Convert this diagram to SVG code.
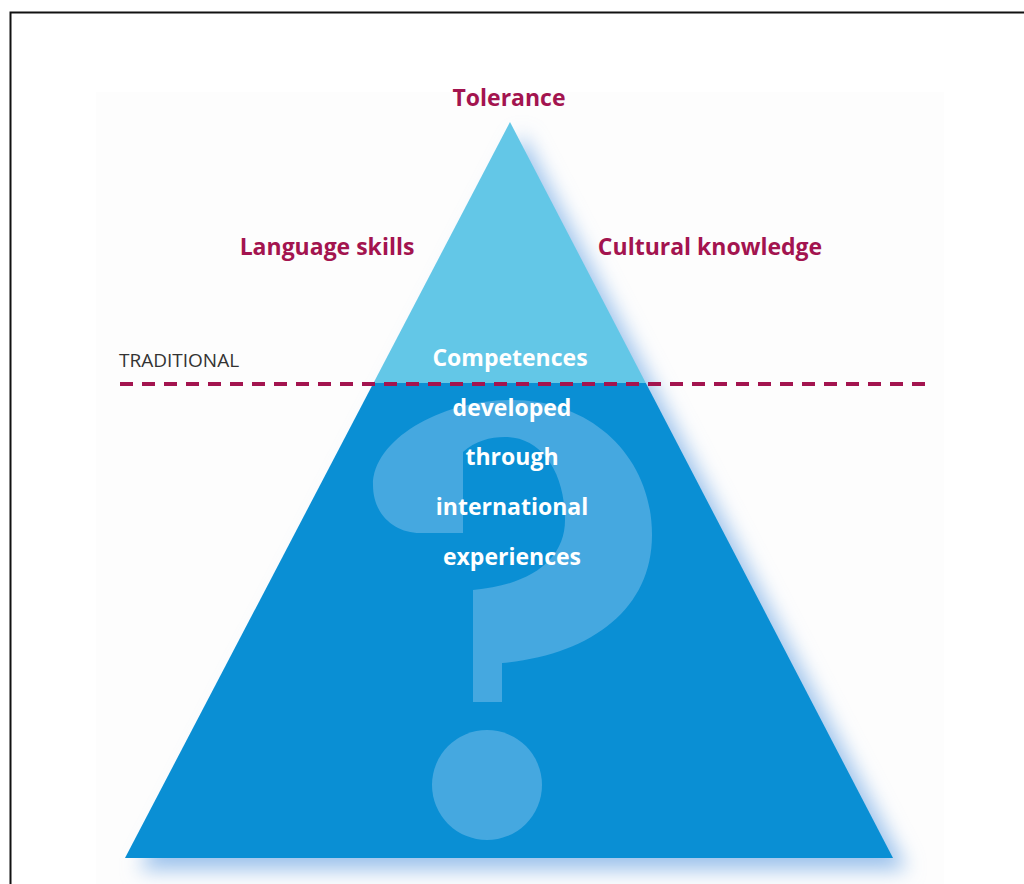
<svg xmlns="http://www.w3.org/2000/svg" width="1024" height="884" viewBox="0 0 1024 884">
  <style>
    .lbl { font-family: "Open Sans", "Liberation Sans", sans-serif; font-weight: 700; font-size: 23px; }
    .red { fill: #A3144F; }
    .wht { fill: #FFFFFF; }
    .trad { font-family: "Open Sans", "Liberation Sans", sans-serif; font-size: 19px; fill: #333333; }
  </style>
  <defs>
    <filter id="soft" x="-20%" y="-20%" width="140%" height="140%">
      <feGaussianBlur stdDeviation="10"/>
    </filter>
    <clipPath id="upper">
      <rect x="0" y="0" width="1024" height="383"/>
    </clipPath>
    <clipPath id="lower">
      <rect x="0" y="383" width="1024" height="501"/>
    </clipPath>
  </defs>

  <rect x="0" y="0" width="1024" height="884" fill="#FFFFFF"/>
  <rect x="10.5" y="12.5" width="1100" height="1000" fill="none" stroke="#111111" stroke-width="2"/>
  <rect x="96" y="92" width="848" height="792" fill="#FDFDFD"/>

  <!-- pyramid with soft drop shadow -->
  <g id="pyramid">
    <polygon points="522,134 907,870 139,870" fill="#9CC2EC" filter="url(#soft)"/>
    <polygon points="510,122 893,858 125,858" fill="#0A8FD4" clip-path="url(#lower)"/>
    <polygon points="510,122 893,858 125,858" fill="#63C7E7" clip-path="url(#upper)"/>
  </g>

  <!-- large question mark inside the pyramid -->
  <g id="question" fill="#45A8E0">
    <path d="M463,533 L463,452 C475,441 490,437 505,437 C540,437 565,470 565,520 C565,560 530,585 473,590 L473,702 L502,702 L502,663 C590,655 652,610 652,535 C652,455 590,400 512,400 C440,400 373,440 373,485 C373,515 395,533 420,533 Z"/>
    <circle cx="487" cy="785" r="55"/>
  </g>

  <!-- dividing line -->
  <g id="connectors">
    <line x1="120" y1="384" x2="926" y2="384" stroke="#A3144F" stroke-width="4" stroke-dasharray="13,9"/>
  </g>

  <g id="traditional">
    <text class="trad" x="119" y="367">TRADITIONAL</text>
  </g>

  <g id="tolerance">
    <text class="lbl red" x="509" y="106" text-anchor="middle">Tolerance</text>
  </g>
  <g id="language">
    <text class="lbl red" x="327" y="255" text-anchor="middle">Language skills</text>
  </g>
  <g id="cultural">
    <text class="lbl red" x="710" y="255" text-anchor="middle">Cultural knowledge</text>
  </g>

  <g id="competences">
    <text class="lbl wht" x="510" y="366" text-anchor="middle">Competences</text>
    <text class="lbl wht" x="512" y="416" text-anchor="middle">developed</text>
    <text class="lbl wht" x="512" y="465" text-anchor="middle">through</text>
    <text class="lbl wht" x="512" y="515" text-anchor="middle">international</text>
    <text class="lbl wht" x="512" y="565" text-anchor="middle">experiences</text>
  </g>
</svg>
